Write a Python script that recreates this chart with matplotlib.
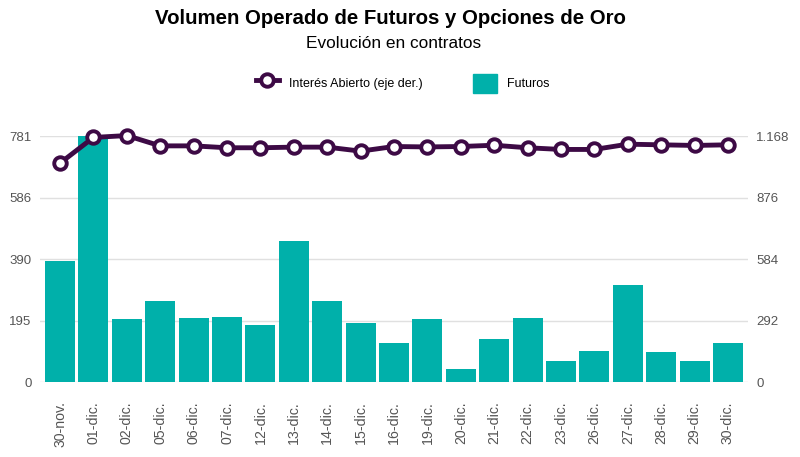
import numpy as np
import matplotlib.pyplot as plt
from matplotlib.lines import Line2D
from matplotlib.patches import Patch

plt.rcParams['font.family'] = ['Liberation Sans', 'DejaVu Sans']

fechas = ["30-nov.", "01-dic.", "02-dic.", "05-dic.", "06-dic.", "07-dic.", "12-dic.",
          "13-dic.", "14-dic.", "15-dic.", "16-dic.", "19-dic.", "20-dic.", "21-dic.",
          "22-dic.", "23-dic.", "26-dic.", "27-dic.", "28-dic.", "29-dic.", "30-dic."]
futuros = [384, 781, 199, 257, 203, 207, 182, 447, 259, 188, 125,
           201, 42, 137, 203, 67, 100, 309, 96, 66, 125]
interes_abierto = [1040, 1162, 1171, 1122, 1122, 1113, 1113, 1116, 1116, 1097, 1119,
                   1117, 1119, 1125, 1113, 1105, 1105, 1130, 1127, 1124, 1127]
ticks_izq = [0, 195, 390, 586, 781]
ticks_der = [0, 292, 584, 876, 1168]

verde = "#00B0AA"
morado = "#3D0A45"
gris = "#555555"

fig = plt.figure(figsize=(8, 4.57), dpi=100)
ax = fig.add_axes([0.05, 0.164, 0.885, 0.538])
ax2 = ax.twinx()

x = np.arange(len(fechas))
ax.bar(x, futuros, width=0.9, color=verde, zorder=2)
ax2.plot(x, interes_abierto, color=morado, lw=3.5, marker="o", ms=9,
         mfc="white", mec=morado, mew=2.8, zorder=3, clip_on=False)

ax.set_ylim(0, 781)
ax2.set_ylim(0, 1168)
ax.set_yticks(ticks_izq)
ax.set_yticklabels([str(t) for t in ticks_izq])
ax2.set_yticks(ticks_der)
ax2.set_yticklabels([f"{t:,}".replace(",", ".") for t in ticks_der])
ax.set_xlim(-0.6, 20.6)
ax.set_xticks(x)
ax.set_xticklabels(fechas, rotation=90)

ax.grid(axis="y", color="#e0e0e0", lw=1, zorder=0)
ax.set_axisbelow(True)
for a in (ax, ax2):
    for s in a.spines.values():
        s.set_visible(False)
    a.tick_params(length=0, colors=gris, labelsize=9.5)
ax.tick_params(axis="y", pad=6)
ax2.tick_params(axis="y", pad=6)
ax.tick_params(axis="x", pad=14, labelsize=10.2)

fig.text(0.4875, 0.96, "Volumen Operado de Futuros y Opciones de Oro", ha="center",
         va="center", fontsize=14.7, fontweight="bold")
fig.text(0.4925, 0.904, "Evolución en contratos", ha="center", va="center", fontsize=12.4)

handles = [Line2D([0], [0], color=morado, lw=3.5, marker="o", ms=9, mfc="white",
                  mec=morado, mew=2.8),
           Patch(color=verde)]
fig.legend(handles, ["Interés Abierto (eje der.)", "Futuros"], loc="center",
           bbox_to_anchor=(0.503, 0.818), ncol=2, frameon=False, fontsize=9,
           columnspacing=4, handlelength=1.9, handleheight=2.0)

fig.savefig("out.png", dpi=100)
